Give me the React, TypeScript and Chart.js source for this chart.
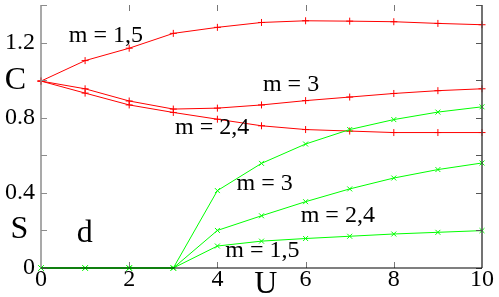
import React, { useEffect, useRef } from "react";
import { Chart, registerables } from "chart.js";

Chart.register(...registerables);

const U = [0, 1, 2, 3, 4, 5, 6, 7, 8, 9, 10];
const C_m15 = [0.995, 1.104, 1.17, 1.249, 1.281, 1.307, 1.316, 1.314, 1.311, 1.302, 1.295];
const C_m3 = [0.995, 0.954, 0.889, 0.846, 0.851, 0.868, 0.891, 0.91, 0.929, 0.944, 0.954];
const C_m24 = [0.995, 0.931, 0.868, 0.828, 0.792, 0.757, 0.737, 0.729, 0.721, 0.721, 0.721];
const S_m3 = [0, 0, 0, 0, 0.412, 0.557, 0.66, 0.737, 0.79, 0.83, 0.858];
const S_m24 = [0, 0, 0, 0, 0.2, 0.278, 0.353, 0.421, 0.479, 0.524, 0.559];
const S_m15 = [0, 0, 0, 0, 0.117, 0.143, 0.157, 0.169, 0.181, 0.19, 0.199];

const yTickLabels: Record<string, string> = { "0": "0", "0.4": "0.4", "0.8": "0.8", "1.2": "1.2" };
const xTickLabels: Record<string, string> = { "0": "0", "2": "2", "4": "4", "6": "6", "8": "8", "10": "10" };

// text annotations: [text, U value, y value, size]
const annotations: [string, number, number, number][] = [
  ["m = 1,5", 1.47, 1.239, 24],
  ["m = 3", 5.67, 0.976, 24],
  ["m = 2,4", 3.88, 0.746, 24],
  ["m = 3", 5.07, 0.447, 24],
  ["m = 2,4", 6.73, 0.279, 24],
  ["m = 1,5", 5.02, 0.091, 24],
  ["d", 0.99, 0.185, 32],
  ["C", -0.58, 1.0, 32],
  ["S", -0.49, 0.206, 32],
  ["U", 5.1, -0.088, 32],
];

const RED = "#ff0000";
const GREEN = "#00ff00";
const FAMILY = "'Liberation Serif', 'Times New Roman', Times, serif";

const framePlugin = {
  id: "frame",
  afterDatasetsDraw(chart: any) {
    const { ctx, chartArea } = chart;
    const xs = chart.scales.x;
    const ys = chart.scales.y;
    const { left, right, top, bottom } = chartArea;
    ctx.save();
    const tl = 6;
    for (let v = 0; v <= 1.4001; v += 0.2) {
      const py = Math.round(ys.getPixelForValue(v)) + 0.5;
      ctx.strokeStyle = "#8c8c8c";
      ctx.lineWidth = 1;
      ctx.beginPath();
      ctx.moveTo(left, py);
      ctx.lineTo(left + tl, py);
      ctx.stroke();
      ctx.strokeStyle = "#555";
      ctx.beginPath();
      ctx.moveTo(right, py);
      ctx.lineTo(right - tl, py);
      ctx.stroke();
    }
    for (let v = 2; v <= 8; v += 2) {
      const px = Math.round(xs.getPixelForValue(v)) + 0.5;
      ctx.strokeStyle = "#777";
      ctx.beginPath();
      ctx.moveTo(px, top);
      ctx.lineTo(px, top + tl);
      ctx.stroke();
      ctx.beginPath();
      ctx.moveTo(px, bottom);
      ctx.lineTo(px, bottom - tl);
      ctx.stroke();
    }
    ctx.lineWidth = 1.5;
    ctx.strokeStyle = "#8c8c8c";
    ctx.beginPath();
    ctx.moveTo(left, top);
    ctx.lineTo(left, bottom);
    ctx.stroke();
    ctx.strokeStyle = "#444";
    ctx.beginPath();
    ctx.moveTo(right, top);
    ctx.lineTo(right, bottom);
    ctx.stroke();
    ctx.strokeStyle = "#000";
    ctx.lineWidth = 1.2;
    ctx.beginPath();
    ctx.moveTo(left, bottom);
    ctx.lineTo(right, bottom);
    ctx.stroke();
    ctx.fillStyle = "#000";
    ctx.textAlign = "center";
    ctx.textBaseline = "middle";
    for (const [t, ux, vy, size] of annotations) {
      ctx.font = `${size}px ${FAMILY}`;
      ctx.fillText(t, xs.getPixelForValue(ux), ys.getPixelForValue(vy));
    }
    ctx.restore();
  },
};

export default function App() {
  const ref = useRef<HTMLCanvasElement>(null);
  useEffect(() => {
    let chart: Chart | null = null;
    let cancelled = false;
    const build = () => {
      if (cancelled || !ref.current) return;
      const mk = (data: number[], color: string, style: string) => ({
        data: U.map((u, i) => ({ x: u, y: data[i] })),
        borderColor: color,
        backgroundColor: color,
        borderWidth: 1,
        pointStyle: style,
        pointRadius: 3.5,
        pointBorderWidth: 1,
        pointBorderColor: color,
        clip: false as any,
        tension: 0,
      });
      chart = new Chart(ref.current, {
        type: "line",
        data: {
          datasets: [
            mk(S_m3, GREEN, "crossRot"),
            mk(S_m24, GREEN, "crossRot"),
            mk(S_m15, GREEN, "crossRot"),
            mk(C_m15, RED, "cross"),
            mk(C_m3, RED, "cross"),
            mk(C_m24, RED, "cross"),
          ] as any,
        },
        options: {
          animation: false,
          responsive: false,
          events: [],
          layout: { padding: { top: 0, right: 17, left: 0, bottom: 0 } },
          plugins: { legend: { display: false }, tooltip: { enabled: false } },
          scales: {
            x: {
              type: "linear",
              min: 0,
              max: 10,
              grid: { display: false, drawTicks: false },
              border: { display: false },
              ticks: {
                stepSize: 1,
                autoSkip: false,
                maxRotation: 0,
                padding: -3,
                color: "#000",
                font: { family: FAMILY, size: 24 },
                callback: (v: any) => xTickLabels[String(v)] ?? "",
              },
              afterFit: (s: any) => {
                s.height = 29;
                s.paddingLeft = 0;
                s.paddingRight = 0;
              },
            },
            y: {
              type: "linear",
              min: 0,
              max: 1.4,
              grid: { display: false, drawTicks: false },
              border: { display: false },
              ticks: {
                stepSize: 0.2,
                autoSkip: false,
                padding: 6,
                color: "#000",
                font: { family: FAMILY, size: 24 },
                callback: (v: any) => yTickLabels[String(Math.round(Number(v) * 10) / 10)] ?? "",
              },
              afterFit: (s: any) => {
                s.width = 41;
                s.paddingTop = 0;
                s.paddingBottom = 0;
              },
            },
          },
        },
        plugins: [framePlugin],
      });
    };
    const fonts: any = (document as any).fonts;
    if (fonts && fonts.load) {
      Promise.all([
        fonts.load("24px 'Liberation Serif'"),
        fonts.load("32px 'Liberation Serif'"),
      ])
        .catch(() => null)
        .then(() => build());
    } else {
      build();
    }
    return () => {
      cancelled = true;
      if (chart) chart.destroy();
    };
  }, []);
  return (
    <div style={{ position: "fixed", left: 0, top: 0, width: 499, height: 297, background: "#fff" }}>
      <canvas ref={ref} width={499} height={297} />
    </div>
  );
}
